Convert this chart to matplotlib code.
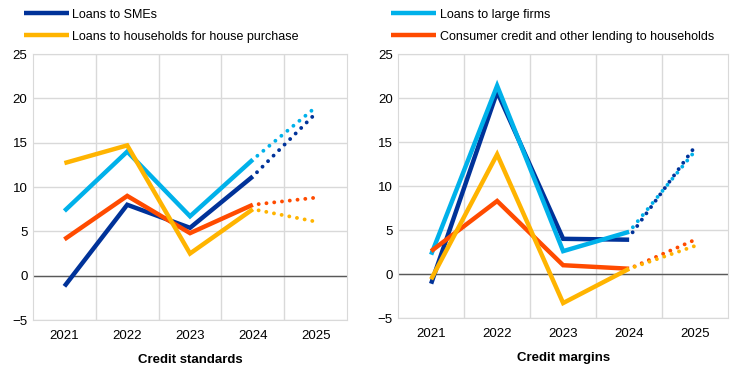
import numpy as np
import matplotlib.pyplot as plt

plt.rcParams['font.family'] = ['Liberation Sans', 'DejaVu Sans']

years = ['2021', '2022', '2023', '2024', '2025']

# credit standards (solid: 2021-2024, dotted: 2024-2025)
std_smes = [-1.2, 8.0, 5.4, 11.2]
std_large = [7.3, 14.0, 6.7, 13.1]
std_house = [12.7, 14.7, 2.5, 7.5]
std_cons = [4.1, 9.0, 4.8, 8.0]
std_smes_exp = [11.2, 18.3]
std_large_exp = [13.1, 19.0]
std_house_exp = [7.5, 6.1]
std_cons_exp = [8.0, 8.8]

# credit margins
mrg_smes = [-1.1, 20.7, 4.0, 3.9]
mrg_large = [2.2, 21.4, 2.6, 4.8]
mrg_house = [-0.6, 13.6, -3.3, 0.6]
mrg_cons = [2.6, 8.3, 1.0, 0.6]
mrg_smes_exp = [4.2, 14.5]
mrg_large_exp = [4.8, 14.0]
mrg_house_exp = [0.6, 3.2]
mrg_cons_exp = [0.6, 3.9]

labels = ["Loans to SMEs", "Loans to large firms",
          "Loans to households for house purchase",
          "Consumer credit and other lending to households"]
colors = ['#003299', '#00b1ea', '#ffb400', '#ff4b00']
zorders = [3, 4, 6, 5]

fig = plt.figure(figsize=(7.4, 3.78), dpi=100)
ax1 = fig.add_axes([0.0446, 0.1534, 0.4244, 0.7036])
ax2 = fig.add_axes([0.538, 0.1587, 0.446, 0.6983])

def draw(ax, solid, dotted, xlabel):
    x = np.arange(4)
    handles = []
    for i, (s, d) in enumerate(zip(solid, dotted)):
        line, = ax.plot(x, s, color=colors[i], lw=3.2, solid_capstyle='butt',
                        solid_joinstyle='miter', zorder=zorders[i])
        handles.append(line)
        ax.plot([3, 4], d, color=colors[i], lw=2.8, linestyle=(0.5, (0.01, 2.0)),
                dash_capstyle='round', zorder=zorders[i])
    ax.set_xlim(-0.5, 4.5)
    ax.set_ylim(-5, 25)
    ax.set_yticks(np.arange(-5, 26, 5))
    ax.set_xticks(np.arange(5))
    ax.set_xticklabels(years)
    ax.set_xticks(np.arange(0.5, 4.0, 1), minor=True)
    ax.grid(True, which='minor', axis='x', color='#d9d9d9', lw=1)
    ax.grid(True, which='major', axis='y', color='#d9d9d9', lw=1)
    ax.axhline(0, color='#595959', lw=1, zorder=2)
    for sp in ax.spines.values():
        sp.set_color('#d9d9d9')
    ax.tick_params(which='both', length=0, labelsize=9.5, colors='black')
    ax.tick_params(axis='x', pad=7)
    ax.tick_params(axis='y', pad=4)
    ax.set_xlabel(xlabel, fontsize=9.5, fontweight='bold', labelpad=9)
    ax.set_axisbelow(True)
    return handles

h = draw(ax1, [std_smes, std_large, std_house, std_cons],
         [std_smes_exp, std_large_exp, std_house_exp, std_cons_exp], 'Credit standards')
draw(ax2, [mrg_smes, mrg_large, mrg_house, mrg_cons],
     [mrg_smes_exp, mrg_large_exp, mrg_house_exp, mrg_cons_exp], 'Credit margins')

leg_kw = dict(frameon=False, fontsize=9, handlelength=3.6, handletextpad=0.25,
              labelspacing=0.8, borderaxespad=0, borderpad=0)
fig.legend([h[0], h[2]], [labels[0], labels[2]], loc='upper left',
           bbox_to_anchor=(0.032, 0.977), **leg_kw)
fig.legend([h[1], h[3]], [labels[1], labels[3]], loc='upper left',
           bbox_to_anchor=(0.529, 0.977), **leg_kw)

fig.savefig('out.png', dpi=100)
